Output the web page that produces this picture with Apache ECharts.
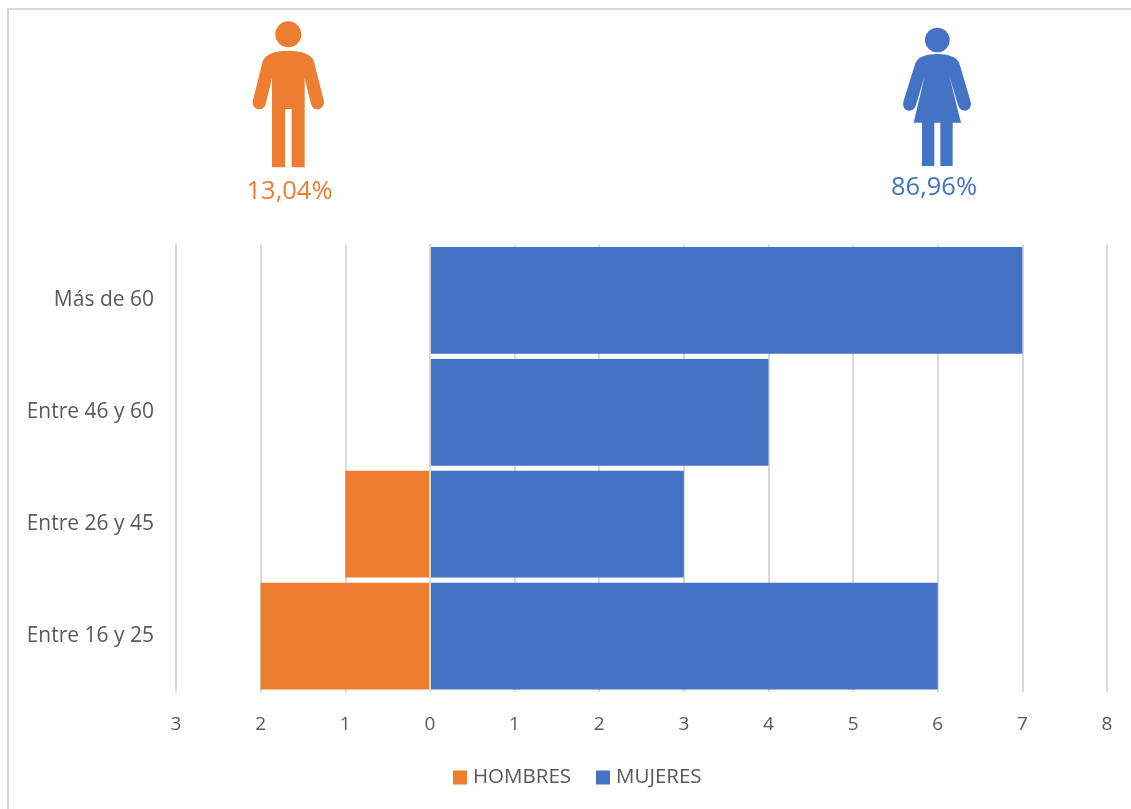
<!DOCTYPE html>
<html>
<head>
<meta charset="utf-8">
<style>html,body{margin:0;padding:0;background:#fff}#chart{width:1131px;height:809px}</style>
<script src="https://cdn.jsdelivr.net/npm/echarts@6/dist/echarts.min.js"></script>
</head>
<body>
<div id="chart"></div>
<script>
// Age groups, listed from the bottom row upward
const categories = ['Entre 16 y 25', 'Entre 26 y 45', 'Entre 46 y 60', 'Más de 60'];
// Men are plotted to the left of zero
const hombres = [-2, -1, 0, 0];
const mujeres = [6, 3, 4, 7];
const seriesNames = ['HOMBRES', 'MUJERES'];
const shareLabels = ['13,04%', '86,96%'];

const ORANGE = '#ED7D31';
const BLUE = '#4472C4';
const GREY = '#595959';
const RULE = '#D9D9D9';
const FONT = '"Open Sans", sans-serif';

const manBody = 'M175 122 C215 122 245 132 252 155 L281 270 C285 285 275 298 262 298 C252 298 246 292 243 282 L224 205 L224 472 L185 472 L185 297 L165 297 L165 472 L126 472 L126 205 L107 282 C104 292 98 298 88 298 C75 298 65 285 69 270 L98 155 C105 132 135 122 175 122 Z';
const womanBody = 'M172 132 C205 132 230 140 238 160 L272 275 C276 290 266 302 254 302 C244 302 238 296 235 288 L208 198 L243 338 L218 338 L218 468 L181 468 L181 338 L163 338 L163 468 L126 468 L126 338 L101 338 L134 198 L107 288 C104 296 98 302 88 302 C76 302 66 290 70 275 L106 160 C114 140 139 132 172 132 Z';

// The graphic component only knows registered shapes, so the silhouettes are registered first
echarts.graphic.registerShape('manBody', echarts.graphic.extendPath(manBody, {}));
echarts.graphic.registerShape('womanBody', echarts.graphic.extendPath(womanBody, {}));

function figure(x, y, bodyType, head, color) {
  return {
    type: 'group', x: x, y: y, scaleX: 1 / 3, scaleY: 1 / 3, silent: true,
    children: [
      { type: bodyType, style: { fill: color } },
      { type: 'circle', shape: head, style: { fill: color } }
    ]
  };
}

function shareText(x, y, text, color) {
  return {
    type: 'text', x: x, y: y, silent: true,
    style: { text: text, fill: color, font: '25.5px ' + FONT, textAlign: 'center', textVerticalAlign: 'middle' }
  };
}

const chart = echarts.init(document.getElementById('chart'), null, { renderer: 'canvas' });
chart.setOption({
  animation: false,
  backgroundColor: '#fff',
  grid: { left: 176, right: 24, top: 244.5, bottom: 117, containLabel: false },
  xAxis: {
    type: 'value', min: -3, max: 8, interval: 1,
    axisLine: { show: false }, axisTick: { show: false },
    splitLine: { show: true, lineStyle: { color: RULE, width: 2 } },
    axisLabel: { color: GREY, fontFamily: FONT, fontSize: 19, margin: 23, formatter: v => String(Math.abs(v)) }
  },
  yAxis: {
    type: 'category', data: categories,
    axisLine: { show: false, onZero: false }, axisTick: { show: false },
    axisLabel: { color: GREY, fontFamily: FONT, fontSize: 21, margin: 22, padding: [3, 0, 0, 0] }
  },
  legend: {
    data: seriesNames, left: 448, top: 762, icon: 'rect', itemWidth: 14, itemHeight: 14, itemGap: 25,
    textStyle: { color: GREY, fontFamily: FONT, fontSize: 20.5, padding: [0, 0, 0, 1] }
  },
  series: [
    {
      name: seriesNames[0], type: 'bar', stack: 'total', data: hombres, barCategoryGap: '4.5%',
      itemStyle: { color: ORANGE },
      markLine: {
        silent: true, symbol: 'none', label: { show: false }, z: 5,
        lineStyle: { color: RULE, width: 2, type: 'solid' },
        data: [{ xAxis: 0 }]
      }
    },
    {
      name: seriesNames[1], type: 'bar', stack: 'total', data: mujeres, barCategoryGap: '4.5%',
      itemStyle: { color: BLUE }
    }
  ],
  graphic: [
    { type: 'line', silent: true, shape: { x1: 8, y1: 9, x2: 1131, y2: 9 }, style: { stroke: RULE, lineWidth: 2 } },
    { type: 'line', silent: true, shape: { x1: 8, y1: 8, x2: 8, y2: 809 }, style: { stroke: RULE, lineWidth: 2 } },
    figure(230, 10, 'manBody', { cx: 175, cy: 73, r: 39 }, ORANGE),
    figure(880, 10, 'womanBody', { cx: 172, cy: 90, r: 37 }, BLUE),
    shareText(289.5, 192, shareLabels[0], ORANGE),
    shareText(934, 188, shareLabels[1], BLUE)
  ]
});
</script>
</body>
</html>
